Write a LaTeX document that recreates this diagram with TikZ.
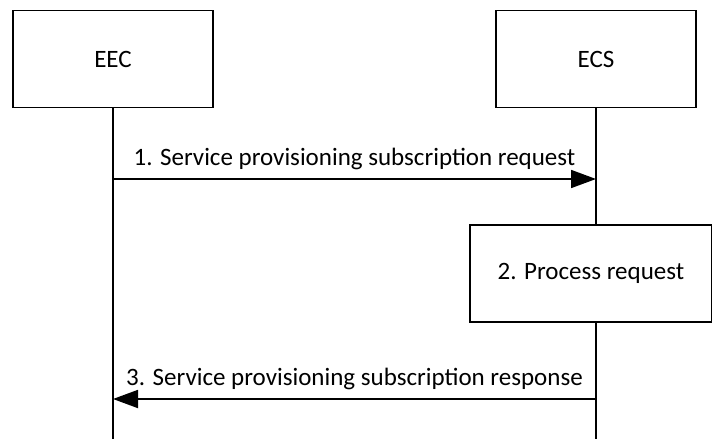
\documentclass[tikz,border=0pt]{standalone}
\usepackage{fontspec}
\setmainfont{Carlito}
\usetikzlibrary{positioning,arrows.meta}

\begin{document}
\begin{tikzpicture}[x=1pt,y=-1pt,line width=1.8pt,
    msg/.style={-{Triangle[length=25pt,width=18pt]}},
    lbl/.style={font=\fontsize{25}{30}\selectfont}]
        \useasboundingbox (0,0) rectangle (712,439);
        %nodes
        \begin{scope}[every node/.style={rectangle,draw,minimum width=200pt,minimum height=97pt,lbl}]
            \node (EEC) at (113,59) {EEC};
            \node (ECS) at (596,59) {ECS};
            \node[minimum width=242pt,anchor=north west] (proc) at (469,224) {2. Process request};
        \end{scope}

        %lifelines
        \coordinate (EECend) at (113,439);
        \coordinate (ECSend) at (596,439);
        \draw (EEC.south) -- (EECend);
        \draw (ECS.south) -- (ECS.south |- proc.north);
        \draw (ECS.south |- proc.south) -- (ECSend);

        %messages
        \coordinate (m1a) at (113,179);
        \coordinate (m1b) at (596,179);
        \coordinate (m3a) at (596,399);
        \coordinate (m3b) at (113,399);
        \draw[msg] (m1a) -- node[lbl,above=5pt] {1. Service provisioning subscription request} (m1b);
        \draw[msg] (m3a) -- node[lbl,above=5pt] {3. Service provisioning subscription response} (m3b);
\end{tikzpicture}
\end{document}
